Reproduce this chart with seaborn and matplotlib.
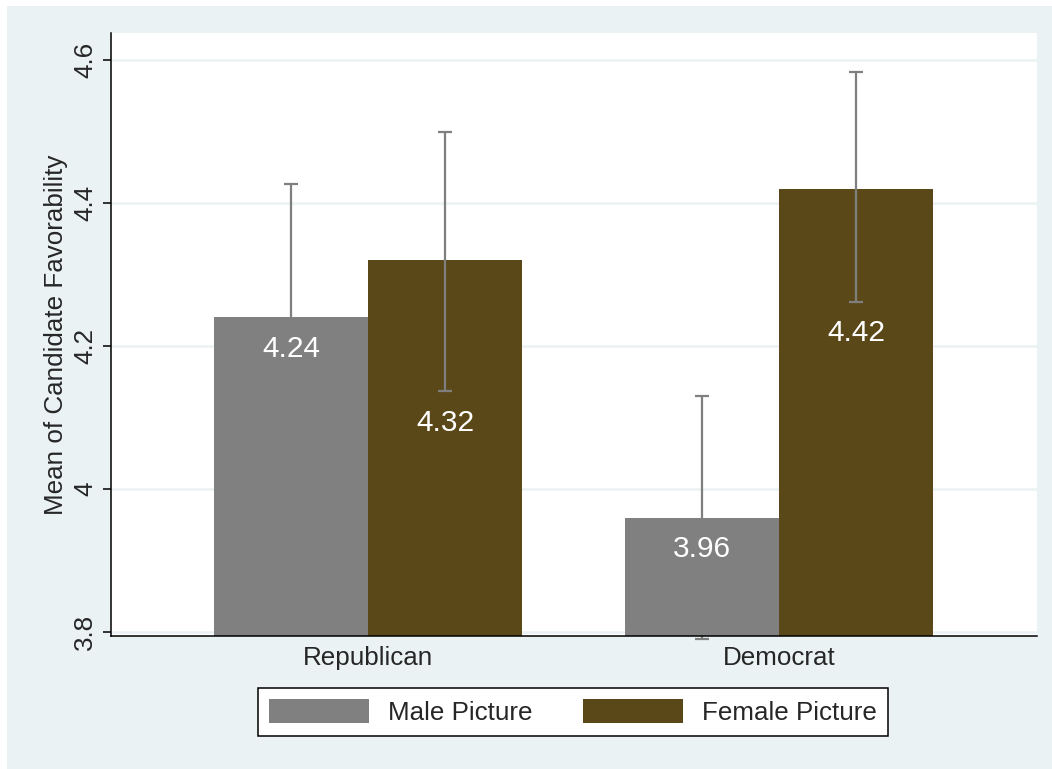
import matplotlib
matplotlib.use("Agg")
import matplotlib.pyplot as plt
from matplotlib.patches import Rectangle, Patch
import pandas as pd
import seaborn as sns

# Candidate favorability by party and picture condition
parties = ["Republican", "Democrat"]
pictures = ["Male Picture", "Female Picture"]
male_means = [4.24, 3.96]
female_means = [4.32, 4.42]
male_ci_low = [4.053, 3.79]
male_ci_high = [4.427, 4.130]
female_ci_low = [4.137, 4.262]
female_ci_high = [4.499, 4.583]
y_ticks = [3.8, 4.0, 4.2, 4.4, 4.6]
y_tick_labels = ["3.8", "4", "4.2", "4.4", "4.6"]

GRAY = "#808080"
BROWN = "#5B4818"
BG = "#EAF2F3"
ERR = "#7F7F7F"

sns.set_style("white")
plt.rcParams["font.family"] = ["Liberation Sans", "DejaVu Sans"]

df = pd.DataFrame({
    "party": parties * 2,
    "picture": [pictures[0]] * 2 + [pictures[1]] * 2,
    "mean": male_means + female_means,
})

W, H = 1052, 769
fig = plt.figure(figsize=(W / 100, H / 100), dpi=100)
fig.patch.set_facecolor("white")
fig.add_artist(Rectangle((7 / W, 0), 1 - 7 / W, 1 - 6 / H, transform=fig.transFigure,
                         facecolor=BG, edgecolor="none", zorder=0))

ax = fig.add_axes([111 / W, 1 - 636 / H, (1037 - 111) / W, (636 - 33) / H])
ax.set_facecolor("white")

sns.barplot(data=df, x="party", y="mean", hue="picture", order=parties,
            hue_order=pictures, palette=[GRAY, BROWN], saturation=1,
            errorbar=None, width=0.751, gap=0, legend=False, ax=ax, zorder=2,
            linewidth=0, edgecolor="none")

ax.set_ylim(3.7944, 4.638)
ax.set_xlim(-0.627, 1.629)

# Confidence intervals: male caps sit behind the bars, female caps on top
series = [
    (male_means, male_ci_low, male_ci_high, 1),
    (female_means, female_ci_low, female_ci_high, 4),
]
bars = ax.patches
for s_idx, (means, lo, hi, z) in enumerate(series):
    for c_idx in range(len(parties)):
        bar = bars[s_idx * len(parties) + c_idx]
        xc = bar.get_x() + bar.get_width() / 2
        m = means[c_idx]
        ax.errorbar([xc], [m], yerr=[[m - lo[c_idx]], [hi[c_idx] - m]],
                    fmt="none", ecolor=ERR, elinewidth=1.6, capsize=4.8,
                    capthick=1.6, zorder=z, clip_on=False)
        label_y = (m if s_idx == 0 else lo[c_idx]) - 0.04
        ax.text(xc, label_y, f"{m:.2f}", color="white", fontsize=21.5,
                ha="center", va="center_baseline", zorder=5)

# Axes styling
ax.set_yticks(y_ticks)
ax.set_yticklabels(y_tick_labels, rotation=90, va="center")
ax.yaxis.grid(True, color=BG, linewidth=1.8, zorder=0)
ax.set_axisbelow(True)
ax.tick_params(axis="y", length=6, width=1.1, color="black", labelsize=18.7, pad=4,
               left=True)
ax.tick_params(axis="x", length=0, labelsize=18.7, pad=7)
ax.set_xlabel("")
ax.set_ylabel("Mean of Candidate Favorability", fontsize=18.7)
ax.yaxis.set_label_coords(-0.046, 0.5)
for side in ("top", "right"):
    ax.spines[side].set_visible(False)
for side in ("left", "bottom"):
    ax.spines[side].set_color("black")
    ax.spines[side].set_linewidth(1.1)
    ax.spines[side].set_zorder(6)

handles = [Patch(facecolor=GRAY, edgecolor="none", label=pictures[0]),
           Patch(facecolor=BROWN, edgecolor="none", label=pictures[1])]
leg = fig.legend(handles=handles, loc="center", ncol=2,
                 bbox_to_anchor=(573 / W, 1 - 712 / H),
                 fontsize=18.7, frameon=True, fancybox=False, framealpha=1,
                 edgecolor="black", handlelength=3.85, handleheight=1.04,
                 handletextpad=0.72, columnspacing=1.95, borderpad=0.42,
                 borderaxespad=0)
leg.get_frame().set_linewidth(1.1)

fig.savefig("out.png", dpi=100, facecolor=fig.get_facecolor())
